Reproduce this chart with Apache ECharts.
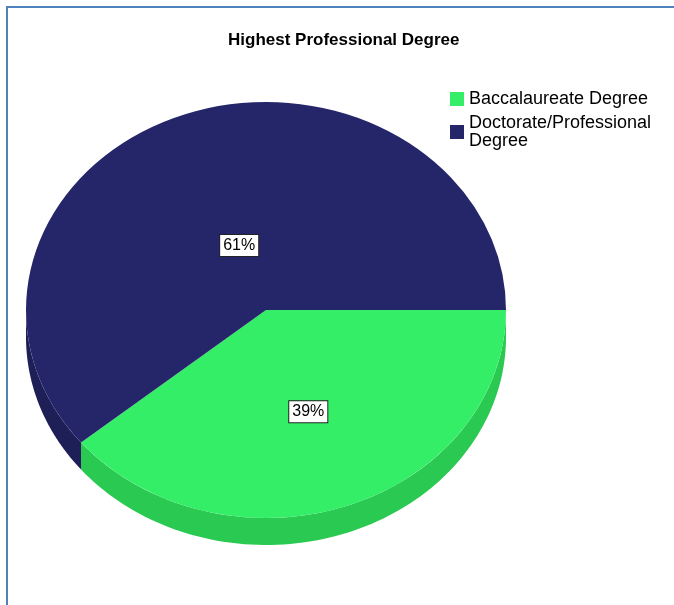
<!DOCTYPE html>
<html>
<head>
<meta charset="utf-8">
<script src="https://cdn.jsdelivr.net/npm/echarts@6/dist/echarts.min.js"></script>
<style>
  html, body { margin: 0; padding: 0; background: #ffffff; }
  #chart { width: 674px; height: 605px; }
</style>
</head>
<body>
<div id="chart"></div>
<script>
// Slice categories and their shares (percent)
const categories = ['Baccalaureate Degree', 'Doctorate/Professional Degree'];
const percents = [39, 61];

// Face and wall colours per slice
const topColors = ['#33EE66', '#25266A'];
const sideColors = ['#29C952', '#1E1F57'];

// Tilted-pie geometry (pixels) and label distance from the centre (fraction of radius)
const PIE = { cx: 266, cy: 310, rx: 240, ry: 208, depth: 27 };
const LABEL_RADIUS = [0.52, 0.33];
const FONT = "'Liberation Sans', Arial, sans-serif";

const total = percents.reduce((a, b) => a + b, 0);
const starts = [];
let acc = 0;
percents.forEach(v => { starts.push(acc / total * Math.PI * 2); acc += v; });

// start / end angle of slice i, clockwise from 3 o'clock
function sliceAngles(i) {
  return [starts[i], starts[i] + percents[i] / total * Math.PI * 2];
}

function ellipsePoint(t, dy) {
  return [PIE.cx + PIE.rx * Math.cos(t), PIE.cy + PIE.ry * Math.sin(t) + dy];
}

// Outer wall of each slice (only the front half can be seen)
const sideSeries = {
  type: 'custom',
  name: 'wall',
  coordinateSystem: 'none',
  silent: true,
  z: 1,
  data: percents.map((v, i) => [i, v]),
  renderItem(params, api) {
    const i = api.value(0);
    const [a0, a1] = sliceAngles(i);
    const s = Math.max(a0, 0), e = Math.min(a1, Math.PI);
    if (e <= s) return null;
    const pts = [];
    const n = 90;
    for (let k = 0; k <= n; k++) pts.push(ellipsePoint(s + (e - s) * k / n, 0));
    for (let k = n; k >= 0; k--) pts.push(ellipsePoint(s + (e - s) * k / n, PIE.depth));
    return { type: 'polygon', shape: { points: pts }, style: { fill: sideColors[i] } };
  }
};

// Top face of each slice, one series per category so the legend lists them
const topSeries = categories.map((name, i) => ({
  type: 'custom',
  name: name,
  coordinateSystem: 'none',
  z: 2,
  itemStyle: { color: topColors[i] },
  data: [[percents[i]]],
  renderItem(params, api) {
    const [a0, a1] = sliceAngles(i);
    const mid = (a0 + a1) / 2;
    const f = LABEL_RADIUS[i];
    return {
      type: 'group',
      children: [
        {
          type: 'sector',
          shape: { cx: PIE.cx, cy: PIE.cy, r0: 0, r: PIE.rx, startAngle: a0, endAngle: a1, clockwise: true },
          originX: PIE.cx,
          originY: PIE.cy,
          scaleY: PIE.ry / PIE.rx,
          style: { fill: topColors[i] }
        },
        {
          type: 'text',
          z2: 10,
          x: PIE.cx + PIE.rx * f * Math.cos(mid),
          y: PIE.cy + PIE.ry * f * Math.sin(mid),
          style: {
            text: api.value(0) + '%',
            font: '16px ' + FONT,
            fill: '#000000',
            align: 'center',
            verticalAlign: 'middle',
            backgroundColor: '#ffffff',
            borderColor: '#222222',
            borderWidth: 1,
            padding: [3, 3, 2, 3]
          }
        }
      ]
    };
  }
}));

const chart = echarts.init(document.getElementById('chart'), null, { renderer: 'canvas' });
chart.setOption({
  animation: false,
  backgroundColor: '#ffffff',
  color: topColors,
  title: {
    text: 'Highest Professional Degree',
    left: 228,
    top: 32,
    padding: 0,
    textStyle: { fontFamily: FONT, fontSize: 17, fontWeight: 'bold', color: '#000000' }
  },
  legend: {
    orient: 'vertical',
    left: 450,
    top: 90,
    padding: 0,
    itemGap: 6,
    itemWidth: 14,
    itemHeight: 14,
    icon: 'rect',
    selectedMode: false,
    data: categories,
    textStyle: {
      fontFamily: FONT,
      fontSize: 18,
      color: '#000000',
      lineHeight: 18,
      width: 200,
      overflow: 'break'
    }
  },
  graphic: [
    { type: 'line', shape: { x1: 6, y1: 7, x2: 674, y2: 7 }, style: { stroke: '#4F81BD', lineWidth: 2 } },
    { type: 'line', shape: { x1: 7, y1: 6, x2: 7, y2: 605 }, style: { stroke: '#4F81BD', lineWidth: 2 } }
  ],
  series: [sideSeries].concat(topSeries)
});
</script>
</body>
</html>
